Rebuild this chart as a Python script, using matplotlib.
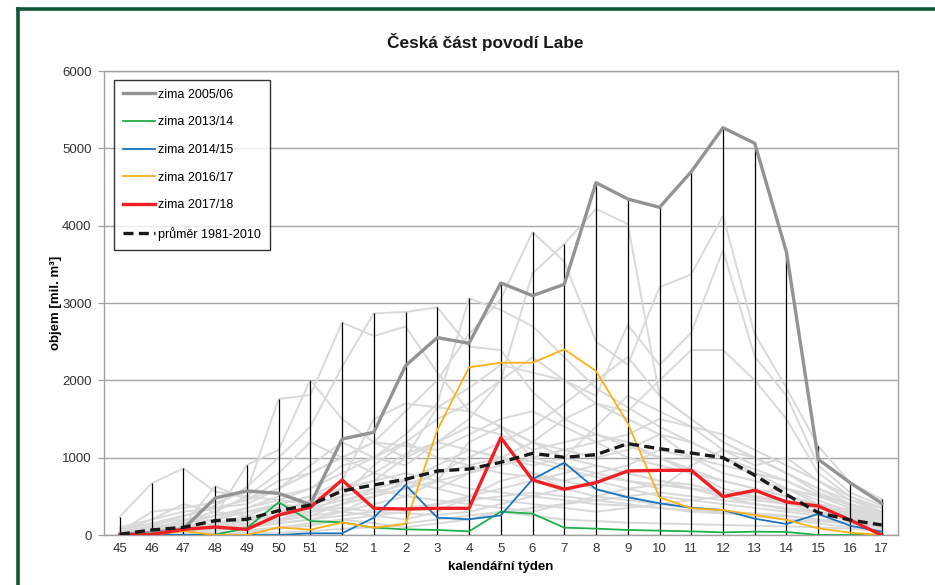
import matplotlib
matplotlib.use("Agg")
import matplotlib.pyplot as plt
from matplotlib.lines import Line2D

plt.rcParams['font.family'] = ['Liberation Sans', 'DejaVu Sans']

# ---------------- data ----------------
tydny = ["45", "46", "47", "48", "49", "50", "51", "52", "1", "2", "3", "4", "5",
         "6", "7", "8", "9", "10", "11", "12", "13", "14", "15", "16", "17"]

zima_2005_06 = [10, 30, 80, 478, 569, 539, 395, 1241, 1328, 2190, 2552, 2479, 3259,
                3095, 3242, 4556, 4345, 4237, 4698, 5267, 5065, 3656, 979, 677, 410]
zima_2013_14 = [0, 0, 0, 5, 90, 422, 181, 164, 95, 73, 65, 47, 302,
                276, 95, 82, 65, 56, 47, 34, 43, 39, 0, 0, 0]
zima_2014_15 = [0, 0, 0, 0, 0, 0, 22, 22, 224, 647, 224, 203, 254,
                720, 935, 591, 487, 410, 353, 323, 211, 142, 272, 121, 43]
zima_2016_17 = [0, 0, 52, 0, 0, 99, 69, 160, 95, 142, 1358, 2168, 2228,
                2228, 2401, 2121, 1444, 487, 345, 323, 259, 194, 86, 30, 0]
zima_2017_18 = [0, 5, 73, 103, 73, 259, 358, 711, 345, 336, 345, 345, 1259,
                711, 591, 677, 828, 836, 836, 496, 578, 427, 375, 194, 0]
prumer_1981_2010 = [10, 65, 99, 185, 203, 315, 388, 569, 647, 720, 828, 853, 940,
                    1056, 1004, 1039, 1181, 1116, 1060, 1000, 772, 522, 289, 194, 129]

# weekly maximum over all winters (vertical lines)
tyden_max = [237, 668, 862, 634, 905, 1759, 2004, 2750, 2866, 2884, 2944, 3060, 3270,
             3918, 3763, 4556, 4350, 4240, 4700, 5270, 5070, 3660, 1150, 681, 461]

# other winters (light grey lines)
ostatni_zimy = [
    [30, 120, 240, 380, 620, 1000, 1400, 2176, 2866, 2884, 2944, 2435, 2392, 1850, 1500, 1300, 1150, 1000, 850, 700, 600, 500, 380, 300, 230],
    [40, 300, 350, 420, 560, 1759, 1810, 2746, 2573, 2694, 2100, 1600, 1400, 1200, 1000, 900, 800, 700, 650, 550, 480, 420, 350, 280, 220],
    [237, 668, 862, 560, 500, 450, 600, 900, 1000, 1300, 1700, 3060, 2909, 2700, 2300, 1900, 1650, 1400, 1200, 1000, 850, 700, 520, 400, 300],
    [20, 80, 150, 250, 905, 1100, 2004, 1500, 1200, 1000, 1200, 1500, 2000, 3384, 3763, 4216, 4022, 1800, 1500, 1200, 1000, 800, 600, 450, 350],
    [10, 60, 120, 634, 450, 700, 800, 1000, 1200, 1600, 2000, 2600, 3050, 3918, 3534, 2500, 2200, 3203, 3371, 4125, 2600, 1900, 1150, 681, 461],
    [0, 40, 100, 200, 350, 500, 600, 800, 1000, 1200, 1500, 1700, 2000, 2300, 2000, 1800, 2716, 2200, 2617, 3685, 2306, 1800, 900, 550, 380],
    [0, 30, 80, 150, 250, 400, 500, 700, 1500, 1700, 1650, 1900, 2200, 2100, 2000, 1700, 1600, 2000, 2392, 2392, 2000, 1500, 800, 500, 300],
    [50, 200, 300, 350, 400, 600, 800, 1000, 1200, 1150, 1100, 1300, 1500, 1600, 1400, 1200, 1000, 900, 800, 700, 600, 500, 400, 330, 250],
    [80, 150, 200, 250, 300, 400, 500, 600, 700, 1000, 1650, 1600, 1400, 1200, 1100, 1000, 1100, 1300, 1200, 1000, 800, 700, 500, 350, 250],
    [20, 100, 180, 300, 500, 800, 1200, 1000, 800, 700, 600, 800, 1000, 1200, 1500, 1700, 1500, 1300, 1000, 900, 800, 600, 450, 300, 200],
    [0, 50, 100, 150, 200, 300, 350, 450, 550, 650, 800, 1000, 1200, 1400, 1700, 2000, 2300, 1800, 1500, 1200, 1000, 800, 600, 400, 280],
    [100, 200, 400, 300, 250, 200, 300, 500, 900, 1200, 1000, 900, 800, 750, 700, 800, 900, 1100, 1000, 800, 700, 600, 500, 400, 300],
    [30, 60, 100, 200, 300, 350, 400, 600, 800, 1050, 1200, 1100, 1000, 900, 1000, 1400, 1800, 1600, 1400, 1100, 900, 1000, 700, 450, 300],
    [0, 20, 50, 100, 150, 200, 300, 400, 500, 600, 700, 800, 900, 1000, 1100, 1200, 1300, 1500, 1400, 1300, 1100, 900, 700, 500, 350],
    [10, 40, 80, 120, 200, 300, 250, 400, 600, 500, 700, 1200, 1400, 1000, 900, 800, 700, 600, 900, 1100, 1000, 800, 550, 380, 260],
    [20, 60, 100, 150, 200, 250, 300, 350, 300, 280, 260, 300, 400, 500, 600, 700, 600, 500, 450, 400, 350, 300, 250, 200, 150],
    [0, 20, 50, 80, 120, 180, 250, 300, 400, 500, 450, 400, 350, 300, 400, 500, 600, 650, 600, 500, 400, 330, 280, 220, 170],
    [50, 100, 150, 200, 300, 400, 350, 300, 250, 200, 300, 500, 700, 800, 700, 600, 500, 400, 350, 300, 250, 200, 180, 150, 120],
    [0, 10, 30, 60, 100, 150, 200, 250, 300, 350, 400, 450, 500, 550, 500, 450, 400, 350, 300, 280, 260, 240, 200, 150, 100],
    [30, 80, 150, 250, 350, 450, 400, 500, 600, 700, 600, 500, 600, 700, 800, 900, 800, 700, 600, 500, 450, 400, 300, 250, 180],
    [0, 0, 10, 20, 40, 80, 120, 200, 150, 100, 150, 200, 300, 250, 200, 180, 160, 150, 140, 130, 120, 110, 100, 80, 60],
    [10, 30, 60, 120, 180, 250, 300, 400, 500, 600, 800, 900, 1000, 950, 850, 750, 700, 650, 600, 550, 500, 450, 350, 280, 200],
    [0, 0, 0, 10, 20, 30, 50, 80, 100, 150, 200, 250, 300, 350, 400, 450, 500, 550, 500, 450, 400, 350, 300, 200, 150],
    [0, 40, 90, 150, 220, 300, 450, 600, 700, 800, 700, 600, 550, 500, 450, 400, 380, 350, 320, 300, 280, 250, 200, 170, 130],
    [0, 10, 20, 30, 60, 100, 150, 200, 250, 300, 400, 500, 450, 400, 350, 300, 350, 400, 450, 500, 550, 600, 400, 250, 150],
    [60, 150, 250, 350, 450, 600, 900, 1200, 1000, 900, 1200, 1400, 1300, 1100, 1200, 1300, 1200, 1000, 800, 600, 500, 400, 350, 300, 250],
    [0, 20, 40, 70, 100, 150, 200, 300, 500, 700, 900, 1100, 1000, 800, 600, 500, 450, 400, 350, 300, 250, 200, 150, 100, 80],
]

nazvy = ["zima 2005/06", "zima 2013/14", "zima 2014/15", "zima 2016/17",
         "zima 2017/18", "průměr 1981-2010"]

# ---------------- figure ----------------
fig = plt.figure(figsize=(9.35, 5.85), dpi=100)
ax = fig.add_axes([104 / 935, 1 - 535 / 585, (897.6 - 104) / 935, (535 - 71) / 585])

x = list(range(len(tydny)))

for s in ostatni_zimy:
    ax.plot(x, s, color="#d9d9d9", lw=1.4, zorder=2)

ax.vlines(x, 0, tyden_max, color="#000000", lw=0.9, zorder=3)

ax.plot(x, zima_2005_06, color="#939393", lw=2.4, zorder=4, label=nazvy[0])
ax.plot(x, zima_2013_14, color="#1fb04b", lw=1.3, zorder=4, label=nazvy[1])
ax.plot(x, zima_2014_15, color="#1c75bc", lw=1.3, zorder=4, label=nazvy[2])
ax.plot(x, zima_2016_17, color="#fbb117", lw=1.3, zorder=4, label=nazvy[3])
ax.plot(x, zima_2017_18, color="#ee2024", lw=2.4, zorder=5, label=nazvy[4])
ax.plot(x, prumer_1981_2010, color="#1a1a1a", lw=2.4, ls=(0, (3, 1.6)), zorder=6,
        label=nazvy[5])

ax.set_xlim(-0.5, len(tydny) - 0.5)
ax.set_ylim(0, 6000)
ax.set_yticks(range(0, 6001, 1000))
ax.set_xticks(x)
ax.set_xticklabels(tydny)
ax.tick_params(axis="x", length=0, pad=6, labelsize=9.5, labelcolor="#333333")
ax.tick_params(axis="y", length=4, width=0.9, color="#a0a0a0", pad=5, labelsize=9.5,
               labelcolor="#333333")
ax.yaxis.grid(True, color="#a6a6a6", lw=1.0, zorder=1)
ax.set_axisbelow(True)
for sp in ax.spines.values():
    sp.set_color("#a0a0a0")
    sp.set_linewidth(1.0)

ax.set_xlabel("kalendářní týden", fontsize=9.5, fontweight="bold", labelpad=4)
ax.set_ylabel("objem [mil. m³]", fontsize=9.5, fontweight="bold")
ax.yaxis.set_label_coords((62 - 104) / 793.6, 0.5)
fig.text(485 / 935, 1 - 42 / 585, "Česká část povodí Labe", fontsize=12.4,
         fontweight="bold", ha="center", va="center", color="#1a1a1a")

leg = ax.legend(loc="upper left", bbox_to_anchor=((114 - 104) / 793.6, 1 - (80 - 71) / 464),
                frameon=True, fancybox=False, edgecolor="#000000", fontsize=9,
                handlelength=2.6, handletextpad=0.25, labelspacing=1.25,
                borderpad=0.7, borderaxespad=0)
leg.get_frame().set_linewidth(1.0)
leg.set_zorder(10)

# green frame (top & left edges visible)
fig.add_artist(Line2D([18 / 935, 18 / 935], [0, 1 - 9 / 585], color="#115638", lw=2.6,
                      transform=fig.transFigure, solid_capstyle="projecting"))
fig.add_artist(Line2D([18 / 935, 1], [1 - 9 / 585, 1 - 9 / 585], color="#115638", lw=2.6,
                      transform=fig.transFigure, solid_capstyle="projecting"))

fig.savefig("out.png", dpi=100)
